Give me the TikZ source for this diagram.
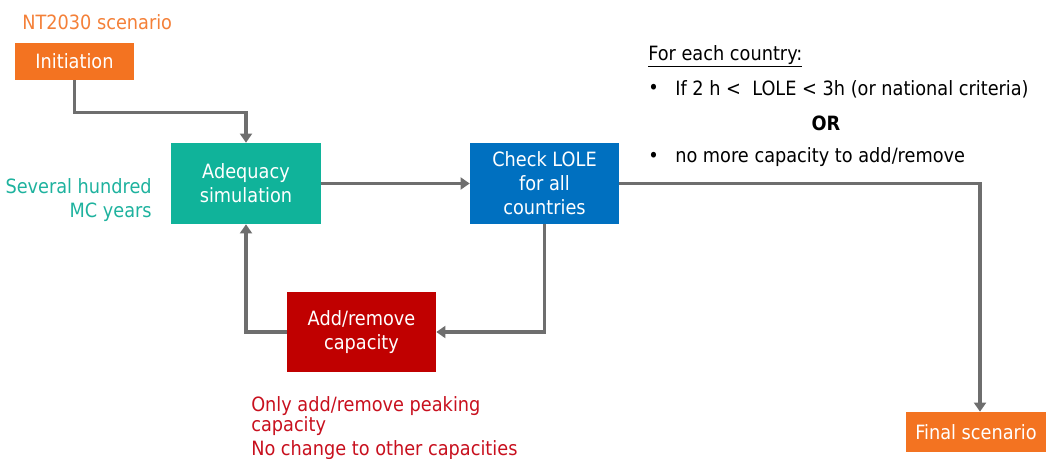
\documentclass[tikz,border=0pt]{standalone}
\usepackage{fontspec}
\setmainfont[FakeStretch=0.9]{DejaVu Sans}
\usepackage{tikz}
\usetikzlibrary{positioning,arrows.meta}

\definecolor{entsoorange}{RGB}{243,115,33}
\definecolor{entsoteal}{RGB}{16,179,154}
\definecolor{entsoblue}{RGB}{0,112,192}
\definecolor{entsored}{RGB}{192,0,0}
\definecolor{flowgray}{RGB}{110,110,110}
\definecolor{noteteal}{RGB}{30,178,158}
\definecolor{noteorange}{RGB}{244,128,56}
\definecolor{notered}{RGB}{200,16,30}

\begin{document}
\begin{tikzpicture}[x=0.025cm,y=-0.025cm,
        box/.style={text=white,align=center,inner sep=0pt,font=\fontsize{14}{17}\selectfont},
        flow/.style={draw=flowgray,line width=2.4pt,-{Triangle[length=6.5pt,width=8.5pt]}},
        note/.style={font=\fontsize{14}{17}\selectfont,inner sep=0pt}]
        \useasboundingbox (0,0) rectangle (1052,459);

        % boxes
        \node[box,fill=entsoorange,minimum width=2.975cm,minimum height=0.925cm] (init) at (74.5,61.5) {Initiation};
        \node[box,fill=entsoteal,minimum width=3.75cm,minimum height=2.025cm] (adeq) at (246,183.5) {Adequacy\\simulation};
        \node[box,fill=entsoblue,minimum width=3.725cm,minimum height=2.025cm] (check) at (544.5,183.5) {Check LOLE\\for all\\countries};
        \node[box,fill=entsored,minimum width=3.725cm,minimum height=2cm] (addrem) at (361.5,332) {Add/remove\\capacity};
        \node[box,fill=entsoorange,minimum width=3.5cm,minimum height=1cm] (final) at (976,432) {Final scenario};

        % arrows
        \draw[flow] (init.south) -- ++(0,32) -| (adeq.north);
        \draw[flow] (adeq.east) -- (check.west);
        \draw[flow] (check.east) -| ([xshift=0.1cm]final.north);
        \draw[flow] (check.south) |- (addrem.east);
        \draw[flow] (addrem.west) -| (adeq.south);

        % notes
        \node[note,text=noteorange,anchor=west] (scen) at (22,22) {NT2030 scenario};
        \node[note,text=noteteal,align=right,anchor=east] (mc) at (152,200.5) {Several hundred\\MC years};
        \node[note,anchor=west] (crit) at (648,56) {\underline{For each country:}};
        \node[note,anchor=west] (bul1) at (648,89) {•};
        \node[note,anchor=west] (cond1) at (675,89) {If 2 h <\ \ LOLE < 3h (or national criteria)};
        \node[note,font=\fontsize{14}{17}\selectfont\bfseries] (or) at (826,123) {OR};
        \node[note,anchor=west] (bul2) at (648,157) {•};
        \node[note,anchor=west] (cond2) at (675,157) {no more capacity to add/remove};
        \node[note,text=notered,align=left,anchor=north west,font=\fontsize{14}{10.5}\selectfont] (peak) at (251,396) {Only add/remove peaking\\capacity};
        \node[note,text=notered,anchor=west] (other) at (251,450) {No change to other capacities};
\end{tikzpicture}
\end{document}
